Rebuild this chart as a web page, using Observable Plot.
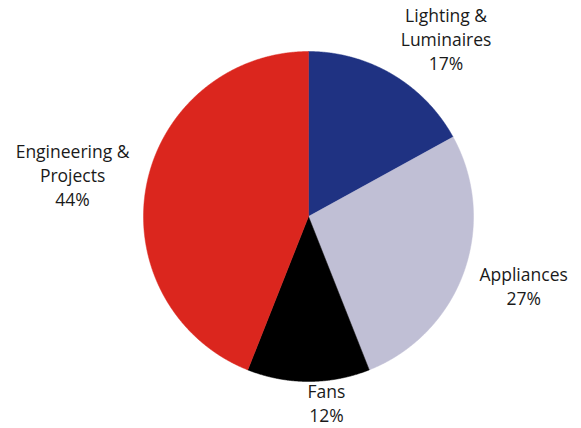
<!DOCTYPE html>
<html>
<head>
<meta charset="utf-8">
<script src="https://cdn.jsdelivr.net/npm/d3@7"></script>
<script src="https://cdn.jsdelivr.net/npm/@observablehq/plot@0.6"></script>
<style>
  html, body { margin: 0; padding: 0; background: #fff; }
  #chart svg { display: block; }
</style>
</head>
<body>
<div id="chart"></div>
<script>
// Data (clockwise from 12 o'clock)
const categories = ["Lighting & Luminaires", "Appliances", "Fans", "Engineering & Projects"];
const labelLines = ["Lighting &\nLuminaires", "Appliances", "Fans", "Engineering &\nProjects"];
const shares = [17, 27, 12, 44];
const colors = ["#1f3282", "#c0bfd5", "#000000", "#db261e"];

// Layout helpers (not data)
const W = 581, H = 428;
const cx = 308, cy = 216, R = 165;
const labelRadius = [1.40, 1.36, 1.12, 1.40];
const labelNudge = [[20, 21], [4, -7], [18, 1], [-9, 1]]; // pixels

const total = d3.sum(shares);
let cum = 0;
const slices = categories.map((c, i) => {
  const a0 = cum / total * 2 * Math.PI;
  cum += shares[i];
  const a1 = cum / total * 2 * Math.PI;
  return {category: c, label: labelLines[i], share: shares[i], a0, a1, i};
});

// Polygon outline of each slice, in unit coordinates
const polys = [];
for (const s of slices) {
  polys.push({category: s.category, x: 0, y: 0});
  const n = Math.max(2, Math.ceil((s.a1 - s.a0) / (Math.PI / 720)));
  for (let k = 0; k <= n; k++) {
    const a = s.a0 + (s.a1 - s.a0) * k / n;
    polys.push({category: s.category, x: Math.sin(a), y: Math.cos(a)});
  }
  polys.push({category: s.category, x: 0, y: 0});
}

const labels = slices.map(s => {
  const m = (s.a0 + s.a1) / 2;
  const r = labelRadius[s.i];
  return {
    text: s.label + "\n" + s.share + "%",
    x: Math.sin(m) * r,
    y: Math.cos(m) * r,
    dx: labelNudge[s.i][0],
    dy: labelNudge[s.i][1]
  };
});

const chart = Plot.plot({
  width: W,
  height: H,
  margin: 0,
  style: {background: "#fff", fontFamily: "'Open Sans', sans-serif"},
  x: {domain: [-1, 1], range: [cx - R, cx + R], axis: null},
  y: {domain: [-1, 1], range: [cy + R, cy - R], axis: null},
  color: {domain: categories, range: colors},
  marks: [
    Plot.line(polys, {x: "x", y: "y", z: "category", fill: "category", stroke: "category", strokeWidth: 0.5, curve: "linear"}),
    ...labels.map(l => Plot.text([l], {
      x: "x", y: "y", text: "text",
      dx: l.dx, dy: l.dy,
      fontSize: 17.5, lineHeight: 1.36,
      fill: "#1a1a1a", textAnchor: "middle", lineAnchor: "middle"
    }))
  ]
});

document.getElementById("chart").appendChild(chart);
</script>
</body>
</html>
